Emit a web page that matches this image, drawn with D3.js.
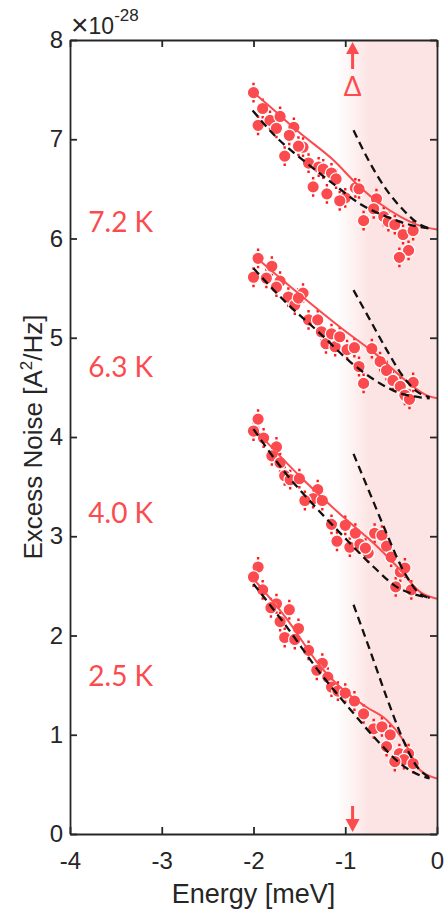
<!DOCTYPE html>
<html>
<head>
<meta charset="utf-8">
<script src="https://cdnjs.cloudflare.com/ajax/libs/d3/7.8.5/d3.min.js"></script>
<style>
	body { margin: 0; background: #fff; }
	.axis text { font-family: 'Liberation Sans', Arial, sans-serif; font-size: 24px; fill: #262626; }
	.axis path, .axis line { stroke: #262626; stroke-width: 1.8; }
</style>
</head>
<body>
<script>

// Temperaturen en de gemeten punten [ energie (meV), ruis (x 1e-28 A^2/Hz) ]
const temps = [ '7.2 K', '6.3 K', '4.0 K', '2.5 K' ],
	labelValue = [ 6.07, 4.60, 3.13, 1.49 ], // hoogte van de labels (data eenheden)
	labelEnergy = -3.8,
	gapEnergy = -0.92, // Delta
	errBar = 0.09,

	pts72 = [ [ -2.00, 7.47 ], [ -1.90, 7.31 ], [ -1.95, 7.14 ], [ -1.82, 7.19 ], [ -1.75, 7.11 ], [ -1.71, 7.23 ],
		[ -1.56, 7.12 ], [ -1.61, 7.04 ], [ -1.46, 6.92 ], [ -1.51, 6.93 ], [ -1.66, 6.83 ], [ -1.40, 6.76 ],
		[ -1.29, 6.72 ], [ -1.24, 6.70 ], [ -1.15, 6.66 ], [ -1.10, 6.60 ], [ -1.35, 6.52 ], [ -1.20, 6.45 ],
		[ -1.00, 6.41 ], [ -1.06, 6.38 ], [ -0.89, 6.51 ], [ -0.85, 6.50 ], [ -0.66, 6.40 ], [ -0.69, 6.30 ],
		[ -0.80, 6.18 ], [ -0.58, 6.22 ], [ -0.53, 6.17 ], [ -0.46, 6.14 ], [ -0.37, 6.04 ], [ -0.26, 6.08 ],
		[ -0.31, 5.88 ], [ -0.41, 5.81 ] ],
	pts63 = [ [ -1.95, 5.80 ], [ -2.00, 5.61 ], [ -1.80, 5.72 ], [ -1.86, 5.60 ], [ -1.71, 5.57 ], [ -1.75, 5.51 ],
		[ -1.62, 5.41 ], [ -1.55, 5.33 ], [ -1.46, 5.45 ], [ -1.51, 5.40 ], [ -1.40, 5.18 ], [ -1.30, 5.18 ],
		[ -1.26, 5.06 ], [ -1.21, 4.94 ], [ -1.15, 5.04 ], [ -1.11, 4.91 ], [ -1.06, 5.01 ], [ -0.98, 4.88 ],
		[ -0.90, 4.90 ], [ -0.85, 4.71 ], [ -0.80, 4.54 ], [ -0.71, 4.89 ], [ -0.62, 4.76 ], [ -0.55, 4.67 ],
		[ -0.48, 4.57 ], [ -0.40, 4.51 ], [ -0.26, 4.55 ], [ -0.35, 4.42 ], [ -0.30, 4.38 ] ],
	pts40 = [ [ -1.95, 4.18 ], [ -2.00, 4.06 ], [ -1.89, 3.99 ], [ -1.75, 3.90 ], [ -1.80, 3.81 ], [ -1.71, 3.74 ],
		[ -1.66, 3.61 ], [ -1.60, 3.57 ], [ -1.50, 3.58 ], [ -1.30, 3.47 ], [ -1.35, 3.38 ], [ -1.44, 3.36 ],
		[ -1.25, 3.36 ], [ -1.15, 3.12 ], [ -1.00, 3.11 ], [ -1.09, 2.95 ], [ -0.95, 2.89 ], [ -0.89, 3.03 ],
		[ -0.84, 2.92 ], [ -0.75, 2.83 ], [ -0.78, 2.88 ], [ -0.68, 3.03 ], [ -0.60, 3.01 ], [ -0.55, 2.90 ],
		[ -0.50, 2.79 ], [ -0.40, 2.64 ], [ -0.35, 2.68 ], [ -0.45, 2.49 ], [ -0.28, 2.46 ] ],
	pts25 = [ [ -1.95, 2.69 ], [ -2.00, 2.59 ], [ -1.90, 2.46 ], [ -1.75, 2.32 ], [ -1.81, 2.28 ], [ -1.61, 2.26 ],
		[ -1.71, 2.14 ], [ -1.51, 2.07 ], [ -1.66, 1.98 ], [ -1.55, 1.96 ], [ -1.40, 1.85 ], [ -1.25, 1.72 ],
		[ -1.31, 1.65 ], [ -1.19, 1.58 ], [ -1.15, 1.48 ], [ -1.08, 1.44 ], [ -1.00, 1.42 ], [ -0.90, 1.34 ],
		[ -0.80, 1.21 ], [ -0.69, 1.06 ], [ -0.60, 1.08 ], [ -0.51, 1.00 ], [ -0.55, 0.88 ], [ -0.41, 0.81 ],
		[ -0.31, 0.81 ], [ -0.36, 0.75 ], [ -0.26, 0.71 ], [ -0.46, 0.73 ] ],

	// Fit (rood), en de twee theorie lijnen (zwart gestreept)
	fit72 = [ [ -2.0, 7.47 ], [ -1.86, 7.36 ], [ -1.49, 7.06 ], [ -1.13, 6.79 ], [ -0.875, 6.55 ], [ -0.62, 6.35 ], [ -0.40, 6.22 ], [ -0.22, 6.14 ], [ 0, 6.09 ] ],
	low72 = [ [ -2.01, 7.29 ], [ -1.75, 7.02 ], [ -1.42, 6.76 ], [ -1.13, 6.55 ], [ -0.84, 6.35 ], [ -0.55, 6.22 ], [ -0.26, 6.13 ], [ -0.08, 6.10 ] ],
	steep72 = [ [ -0.91, 7.09 ], [ -0.73, 6.76 ], [ -0.55, 6.49 ], [ -0.37, 6.29 ], [ -0.185, 6.14 ], [ -0.08, 6.10 ] ],
	fit63 = [ [ -2.0, 5.83 ], [ -1.49, 5.43 ], [ -1.02, 5.08 ], [ -0.66, 4.83 ], [ -0.33, 4.56 ], [ -0.11, 4.42 ], [ 0, 4.39 ] ],
	low63 = [ [ -2.0, 5.70 ], [ -1.64, 5.35 ], [ -1.27, 5.04 ], [ -0.95, 4.76 ], [ -0.62, 4.54 ], [ -0.40, 4.44 ], [ -0.185, 4.40 ], [ -0.08, 4.39 ] ],
	steep63 = [ [ -0.91, 5.48 ], [ -0.73, 5.18 ], [ -0.55, 4.88 ], [ -0.37, 4.61 ], [ -0.22, 4.46 ], [ -0.08, 4.40 ] ],
	fit40 = [ [ -2.0, 4.09 ], [ -1.49, 3.60 ], [ -0.98, 3.16 ], [ -0.69, 2.93 ], [ -0.40, 2.66 ], [ -0.185, 2.44 ], [ 0, 2.37 ] ],
	low40 = [ [ -2.0, 4.08 ], [ -1.68, 3.67 ], [ -1.31, 3.28 ], [ -0.98, 2.96 ], [ -0.69, 2.69 ], [ -0.44, 2.49 ], [ -0.185, 2.40 ], [ -0.08, 2.38 ] ],
	steep40 = [ [ -0.91, 3.83 ], [ -0.73, 3.43 ], [ -0.55, 3.03 ], [ -0.37, 2.66 ], [ -0.185, 2.42 ], [ -0.08, 2.38 ] ],
	fit25 = [ [ -2.0, 2.57 ], [ -1.64, 2.17 ], [ -1.28, 1.70 ], [ -0.98, 1.42 ], [ -0.77, 1.28 ], [ -0.55, 1.15 ], [ -0.37, 0.95 ], [ -0.185, 0.645 ], [ 0, 0.56 ] ],
	low25 = [ [ -2.0, 2.52 ], [ -1.64, 2.09 ], [ -1.28, 1.63 ], [ -0.95, 1.26 ], [ -0.66, 0.95 ], [ -0.40, 0.71 ], [ -0.185, 0.59 ], [ -0.08, 0.56 ] ],
	steep25 = [ [ -0.91, 2.31 ], [ -0.73, 1.85 ], [ -0.55, 1.38 ], [ -0.37, 0.95 ], [ -0.22, 0.68 ], [ -0.08, 0.57 ] ],

	xTicks = [ -4, -3, -2, -1, 0 ],
	yTicks = [ 0, 1, 2, 3, 4, 5, 6, 7, 8 ]

const series = [
	{ name: temps[ 0 ], label: labelValue[ 0 ], pts: pts72, fit: fit72, low: low72, steep: steep72 },
	{ name: temps[ 1 ], label: labelValue[ 1 ], pts: pts63, fit: fit63, low: low63, steep: steep63 },
	{ name: temps[ 2 ], label: labelValue[ 2 ], pts: pts40, fit: fit40, low: low40, steep: steep40 },
	{ name: temps[ 3 ], label: labelValue[ 3 ], pts: pts25, fit: fit25, low: low25, steep: steep25 }
]

const width = 446,
	height = 915,
	margin = { top: 40, right: 9, bottom: 81, left: 70 },
	red = '#fb4b4e',
	ink = '#262626',

	x = d3.scaleLinear()
		.domain( [ -4, 0 ] )
		.range( [ margin.left, width - margin.right ] ),

	y = d3.scaleLinear()
		.domain( [ 0, 8 ] )
		.range( [ height - margin.bottom, margin.top ] ),

	line = d3.line()
		.x( d => x( d[ 0 ] ) )
		.y( d => y( d[ 1 ] ) )
		.curve( d3.curveMonotoneX ),

	svg = d3.select( 'body' )
		.append( 'svg' )
		.attr( 'width', width )
		.attr( 'height', height )

// Roze vlak boven de gap, met een zachte overgang
const grad = svg.append( 'defs' )
	.append( 'linearGradient' )
	.attr( 'id', 'shade' )
	.attr( 'gradientUnits', 'userSpaceOnUse' )
	.attr( 'x1', x( -1.1 ) )
	.attr( 'x2', x( -0.74 ) )
	.attr( 'y1', 0 )
	.attr( 'y2', 0 )

grad.append( 'stop' ).attr( 'offset', 0 ).attr( 'stop-color', '#fde4e4' ).attr( 'stop-opacity', 0 )
grad.append( 'stop' ).attr( 'offset', 1 ).attr( 'stop-color', '#fde4e4' ).attr( 'stop-opacity', 1 )

svg.append( 'rect' )
	.attr( 'x', x( -1.1 ) )
	.attr( 'y', y( 8 ) )
	.attr( 'width', x( 0 ) - x( -1.1 ) )
	.attr( 'height', y( 0 ) - y( 8 ) )
	.attr( 'fill', 'url(#shade)' )

const serie = svg.selectAll( '.serie' )
	.data( series )
	.enter()
	.append( 'g' )
	.attr( 'class', 'serie' )

// Foutbalken (stippel)
serie.selectAll( '.err' )
	.data( d => d.pts )
	.enter()
	.append( 'path' )
	.attr( 'class', 'err' )
	.attr( 'd', d => `M${ x( d[ 0 ] ) },${ y( d[ 1 ] + errBar ) - 1 }v2.5M${ x( d[ 0 ] ) },${ y( d[ 1 ] - errBar ) + 1 }v-2.5` )
	.attr( 'stroke', '#ff1a1a' )
	.attr( 'stroke-width', 2.4 )

serie.selectAll( '.dot' )
	.data( d => d.pts )
	.enter()
	.append( 'circle' )
	.attr( 'class', 'dot' )
	.attr( 'cx', d => x( d[ 0 ] ) )
	.attr( 'cy', d => y( d[ 1 ] ) )
	.attr( 'r', 6.2 )
	.attr( 'fill', red )
	.attr( 'stroke', '#fff' )
	.attr( 'stroke-width', 1.2 )

serie.append( 'path' )
	.attr( 'd', d => line( d.fit ) )
	.attr( 'fill', 'none' )
	.attr( 'stroke', red )
	.attr( 'stroke-width', 2 )

serie.selectAll( '.theory' )
	.data( d => [ d.low, d.steep ] )
	.enter()
	.append( 'path' )
	.attr( 'class', 'theory' )
	.attr( 'd', line )
	.attr( 'fill', 'none' )
	.attr( 'stroke', '#111' )
	.attr( 'stroke-width', 2.3 )
	.attr( 'stroke-dasharray', '8,5' )

serie.append( 'text' )
	.attr( 'x', x( labelEnergy ) )
	.attr( 'y', d => y( d.label ) )
	.attr( 'fill', red )
	.style( 'font-family', 'Lato, "Open Sans", sans-serif' )
	.style( 'font-size', '28px' )
	.text( d => d.name )

// Assen, met een doos eromheen (ticks naar binnen)
const xLeft = x( -4 ), xRight = x( 0 ), yTop = y( 8 ), yBottom = y( 0 )

svg.append( 'g' )
	.attr( 'class', 'axis' )
	.attr( 'transform', `translate( 0, ${ yBottom } )` )
	.call( d3.axisBottom( x ).tickValues( xTicks ).tickSize( -7 ).tickSizeOuter( 0 ).tickPadding( 18 ).tickFormat( d => String( d ) ) )

svg.append( 'g' )
	.attr( 'class', 'axis' )
	.attr( 'transform', `translate( 0, ${ yTop } )` )
	.call( d3.axisTop( x ).tickValues( xTicks ).tickSize( -7 ).tickSizeOuter( 0 ).tickFormat( '' ) )

svg.append( 'g' )
	.attr( 'class', 'axis' )
	.attr( 'transform', `translate( ${ xLeft }, 0 )` )
	.call( d3.axisLeft( y ).tickValues( yTicks ).tickSize( -7 ).tickSizeOuter( 0 ).tickPadding( 7 ).tickFormat( d => String( d ) ) )

svg.append( 'g' )
	.attr( 'class', 'axis' )
	.attr( 'transform', `translate( ${ xRight }, 0 )` )
	.call( d3.axisRight( y ).tickValues( yTicks ).tickSize( -7 ).tickSizeOuter( 0 ).tickFormat( '' ) )

// Exponent linksboven
const expo = svg.append( 'text' )
	.attr( 'x', xLeft + 1 )
	.attr( 'y', 34 )
	.attr( 'fill', ink )
	.style( 'font-family', '"Liberation Sans", Arial, sans-serif' )
	.style( 'font-size', '23px' )

expo.append( 'tspan' ).style( 'font-size', '30px' ).attr( 'dy', 1 ).text( '\u00d7' )
expo.append( 'tspan' ).attr( 'dy', -1 ).text( '10' )
expo.append( 'tspan' ).attr( 'dy', -13 ).style( 'font-size', '17px' ).text( '-28' )

svg.append( 'text' )
	.attr( 'x', ( xLeft + xRight ) / 2 )
	.attr( 'y', 903 )
	.attr( 'text-anchor', 'middle' )
	.attr( 'fill', ink )
	.style( 'font-family', '"Liberation Sans", Arial, sans-serif' )
	.style( 'font-size', '27px' )
	.text( 'Energy [meV]' )

const yLabel = svg.append( 'text' )
	.attr( 'transform', `translate( 42, ${ ( yTop + yBottom ) / 2 } ) rotate( -90 )` )
	.attr( 'text-anchor', 'middle' )
	.attr( 'fill', ink )
	.style( 'font-family', '"Liberation Sans", Arial, sans-serif' )
	.style( 'font-size', '26px' )

yLabel.append( 'tspan' ).text( 'Excess Noise [A' )
yLabel.append( 'tspan' ).attr( 'dy', -10 ).style( 'font-size', '17px' ).text( '2' )
yLabel.append( 'tspan' ).attr( 'dy', 10 ).text( '/Hz]' )

// Pijlen bij Delta
const gx = x( gapEnergy )

svg.append( 'line' )
	.attr( 'x1', gx ).attr( 'x2', gx )
	.attr( 'y1', yTop + 13 ).attr( 'y2', yTop + 29 )
	.attr( 'stroke', red ).attr( 'stroke-width', 3 )

svg.append( 'path' )
	.attr( 'd', `M${ gx },${ yTop + 2 }l-6.5,12h13z` )
	.attr( 'fill', red )

svg.append( 'line' )
	.attr( 'x1', gx ).attr( 'x2', gx )
	.attr( 'y1', yBottom - 28 ).attr( 'y2', yBottom - 13 )
	.attr( 'stroke', red ).attr( 'stroke-width', 3 )

svg.append( 'path' )
	.attr( 'd', `M${ gx },${ yBottom - 2 }l-7,-13h14z` )
	.attr( 'fill', red )

svg.append( 'text' )
	.attr( 'x', gx )
	.attr( 'y', yTop + 56 )
	.attr( 'text-anchor', 'middle' )
	.attr( 'fill', red )
	.style( 'font-family', 'Lato, "Open Sans", sans-serif' )
	.style( 'font-size', '26px' )
	.text( '\u0394' )

</script>
</body>
</html>
